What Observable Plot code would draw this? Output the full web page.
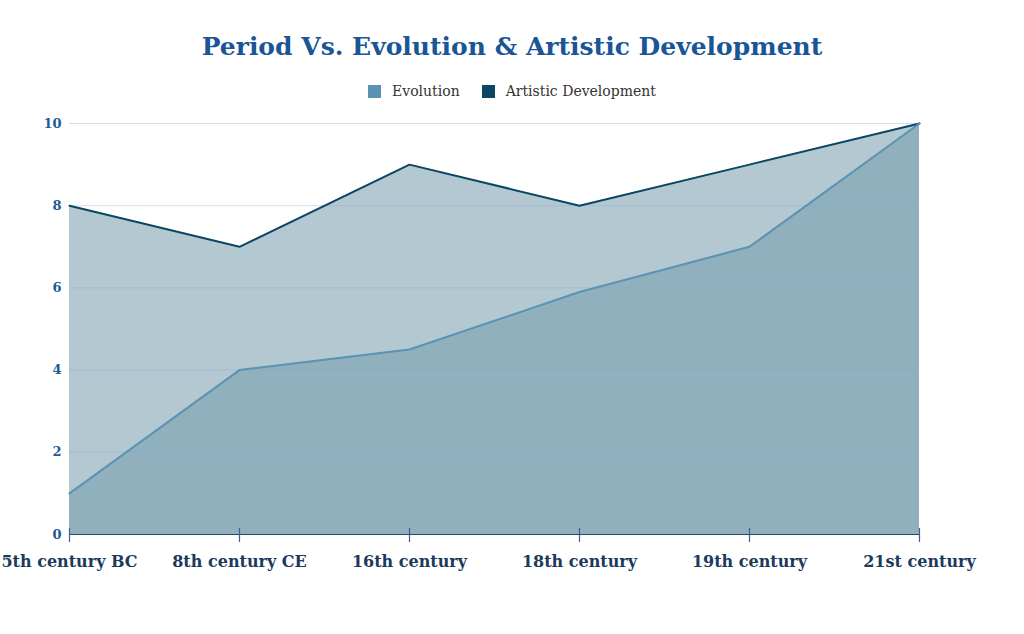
<!DOCTYPE html>
<html>
<head>
<meta charset="utf-8">
<script src="https://cdn.jsdelivr.net/npm/d3@7"></script>
<script src="https://cdn.jsdelivr.net/npm/@observablehq/plot@0.6"></script>
<style>
  html, body { margin: 0; padding: 0; background: #fff; }
  #wrap { width: 1024px; height: 634px; overflow: hidden; }
  #title { margin-top: 29px; height: 35px; line-height: 35px; text-align: center;
    font-family: "DejaVu Serif", serif; font-weight: bold; font-size: 25px; color: #1a5696; }
  #legend { padding-top: 12px; height: 30px; display: flex; justify-content: center; align-items: center;
    font-family: "DejaVu Serif", serif; font-size: 14px; color: #333; }
  .item { display: flex; align-items: center; margin: 0 11px; }
  .sw { width: 13px; height: 13px; margin-right: 11px; }
  svg { display: block; }
</style>
</head>
<body>
<div id="wrap">
  <div id="title">Period Vs. Evolution &amp; Artistic Development</div>
  <div id="legend"></div>
  <div id="chart"></div>
</div>
<script>
const periods = ["5th century BC", "8th century CE", "16th century", "18th century", "19th century", "21st century"];
const evolution = [1, 4, 4.5, 5.9, 7, 10];
const artistic = [8, 7, 9, 8, 9, 10];
const yTicks = [0, 2, 4, 6, 8, 10];
const seriesNames = ["Evolution", "Artistic Development"];
const seriesColors = ["#5a93b3", "#0b4764"];

const legend = document.getElementById("legend");
seriesNames.forEach((n, i) => {
  const it = document.createElement("div");
  it.className = "item";
  it.innerHTML = `<div class="sw" style="background:${seriesColors[i]}"></div><span>${n}</span>`;
  legend.appendChild(it);
});

const evoData = periods.map((p, i) => ({period: p, value: evolution[i]}));
const artData = periods.map((p, i) => ({period: p, value: artistic[i]}));

const serif = "DejaVu Serif, serif";

const chart = Plot.plot({
  width: 1024,
  height: 528,
  marginTop: 17,
  marginBottom: 100,
  marginLeft: 69,
  marginRight: 105,
  style: {fontFamily: serif, background: "transparent", overflow: "visible"},
  x: {type: "point", domain: periods, padding: 0},
  y: {domain: [0, 10]},
  marks: [
    Plot.areaY(artData, {x: "period", y: "value", fill: "#b4c8d1"}),
    Plot.areaY(evoData, {x: "period", y: "value", fill: "#8fb0bc"}),
    Plot.ruleY(yTicks.filter(d => d > 0), {stroke: "#7fa9d6", strokeOpacity: 0.35, strokeWidth: 1}),
    Plot.lineY(artData, {x: "period", y: "value", stroke: seriesColors[1], strokeWidth: 2}),
    Plot.lineY(evoData, {x: "period", y: "value", stroke: seriesColors[0], strokeWidth: 2}),
    Plot.ruleY([0], {stroke: "#2a4a6a", strokeWidth: 1.2}),
    Plot.axisY({ticks: yTicks, tickSize: 0, tickPadding: 8, fill: "#1f5b99", fontWeight: "bold", fontSize: 13, fontFamily: serif, label: null}),
    Plot.axisX({tickSize: 14, dy: -6, text: null, stroke: "#3d5f91", strokeWidth: 1.2, label: null}),
    Plot.axisX({tickSize: 0, tickPadding: 21, fill: "#1b3a5c", fontWeight: "bold", fontSize: 16, fontFamily: serif, label: null})
  ]
});
document.getElementById("chart").appendChild(chart);
</script>
</body>
</html>
